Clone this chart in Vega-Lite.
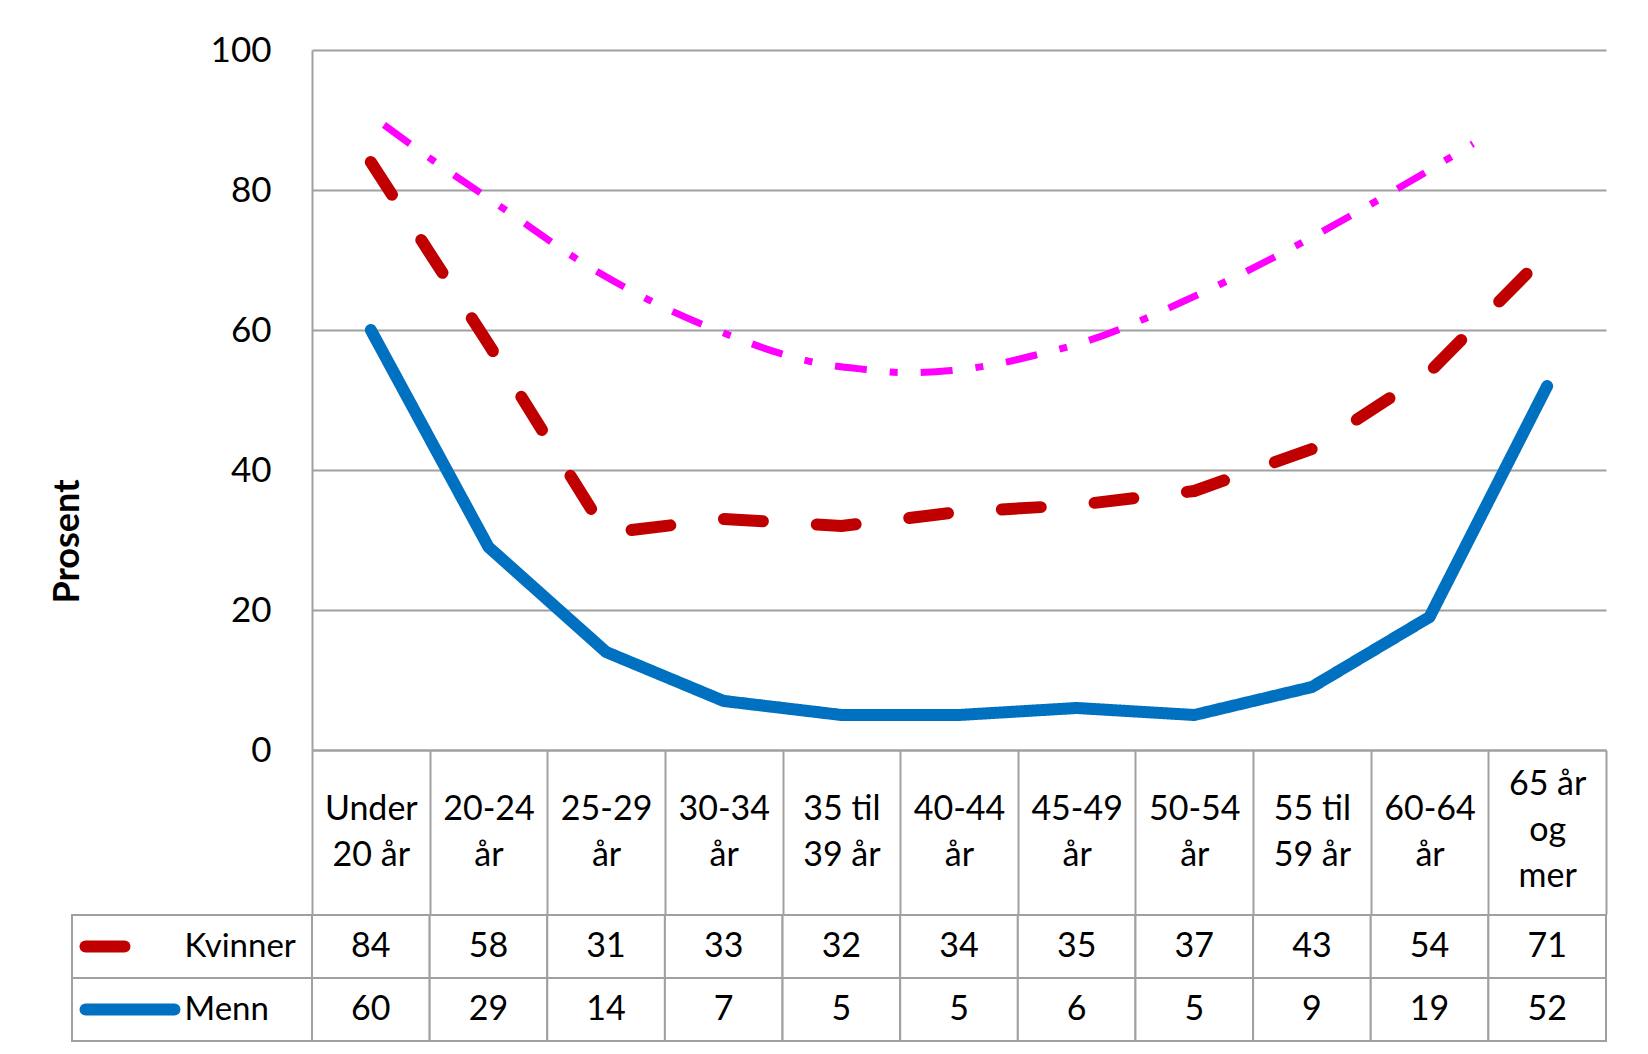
{
  "$schema": "https://vega.github.io/schema/vega-lite/v6.json",
  "background": "white",
  "padding": {"left": 49, "top": 33, "right": 0, "bottom": 0},
  "config": {
    "view": {"stroke": null},
    "font": "Lato"
  },
  "datasets": {
    "tabell": [
      {"alder": "Under 20 år", "kjonn": "Kvinner", "verdi": 84},
      {"alder": "20-24 år", "kjonn": "Kvinner", "verdi": 58},
      {"alder": "25-29 år", "kjonn": "Kvinner", "verdi": 31},
      {"alder": "30-34 år", "kjonn": "Kvinner", "verdi": 33},
      {"alder": "35 til 39 år", "kjonn": "Kvinner", "verdi": 32},
      {"alder": "40-44 år", "kjonn": "Kvinner", "verdi": 34},
      {"alder": "45-49 år", "kjonn": "Kvinner", "verdi": 35},
      {"alder": "50-54 år", "kjonn": "Kvinner", "verdi": 37},
      {"alder": "55  til 59 år", "kjonn": "Kvinner", "verdi": 43},
      {"alder": "60-64 år", "kjonn": "Kvinner", "verdi": 54},
      {"alder": "65 år og mer", "kjonn": "Kvinner", "verdi": 71},
      {"alder": "Under 20 år", "kjonn": "Menn", "verdi": 60},
      {"alder": "20-24 år", "kjonn": "Menn", "verdi": 29},
      {"alder": "25-29 år", "kjonn": "Menn", "verdi": 14},
      {"alder": "30-34 år", "kjonn": "Menn", "verdi": 7},
      {"alder": "35 til 39 år", "kjonn": "Menn", "verdi": 5},
      {"alder": "40-44 år", "kjonn": "Menn", "verdi": 5},
      {"alder": "45-49 år", "kjonn": "Menn", "verdi": 6},
      {"alder": "50-54 år", "kjonn": "Menn", "verdi": 5},
      {"alder": "55  til 59 år", "kjonn": "Menn", "verdi": 9},
      {"alder": "60-64 år", "kjonn": "Menn", "verdi": 19},
      {"alder": "65 år og mer", "kjonn": "Menn", "verdi": 52}
    ],
    "trend": [
      {"alder_indeks": 0.612, "verdi": 89.3},
      {"alder_indeks": 1.031, "verdi": 84.2},
      {"alder_indeks": 1.641, "verdi": 77.2},
      {"alder_indeks": 2.264, "verdi": 70.0},
      {"alder_indeks": 2.922, "verdi": 63.8},
      {"alder_indeks": 3.602, "verdi": 58.9},
      {"alder_indeks": 3.953, "verdi": 56.8},
      {"alder_indeks": 4.318, "verdi": 55.2},
      {"alder_indeks": 4.684, "verdi": 54.4},
      {"alder_indeks": 5.058, "verdi": 53.9},
      {"alder_indeks": 5.432, "verdi": 54.2},
      {"alder_indeks": 5.806, "verdi": 55.1},
      {"alder_indeks": 6.171, "verdi": 56.5},
      {"alder_indeks": 6.528, "verdi": 58.1},
      {"alder_indeks": 7.5, "verdi": 64.8},
      {"alder_indeks": 8.56, "verdi": 73.8},
      {"alder_indeks": 9.21, "verdi": 80.0},
      {"alder_indeks": 9.87, "verdi": 86.6}
    ],
    "forklaring": [
      {"kjonn": "Kvinner", "punkt": "start"},
      {"kjonn": "Kvinner", "punkt": "slutt"},
      {"kjonn": "Menn", "punkt": "start"},
      {"kjonn": "Menn", "punkt": "slutt"}
    ]
  },
  "concat": [
    {
      "width": 240,
      "height": 700,
      "data": {"values": []},
      "mark": {"type": "point", "opacity": 0}
    },
    {
      "width": 1294,
      "height": 700,
      "layer": [
        {
          "data": {"name": "tabell"},
          "mark": {"type": "line", "strokeWidth": 12, "strokeCap": "round", "strokeJoin": "round"},
          "encoding": {
            "x": {
              "field": "alder",
              "type": "nominal",
              "bandPosition": 0.5,
              "sort": ["Under 20 år", "20-24 år", "25-29 år", "30-34 år", "35 til 39 år", "40-44 år", "45-49 år", "50-54 år", "55  til 59 år", "60-64 år", "65 år og mer"],
              "scale": {"type": "band", "paddingInner": 0, "paddingOuter": 0},
              "axis": {
                "orient": "bottom",
                "title": null,
                "grid": false,
                "domain": true,
                "domainColor": "#a0a0a0",
                "domainWidth": 2,
                "ticks": true,
                "tickBand": "extent",
                "tickSize": 164,
                "tickColor": "#a0a0a0",
                "tickWidth": 2,
                "labelAngle": 0,
                "labelExpr": "datum.label == '65 år og mer' ? ['65 år', 'og', 'mer'] : indexof(datum.label, '-') >= 0 ? [slice(datum.label, 0, -3), 'år'] : [slice(datum.label, 0, -6), slice(datum.label, -5)]",
                "labelFontSize": 34,
                "labelColor": "#000000",
                "labelLineHeight": 46,
                "labelBaseline": "middle",
                "labelAlign": "center",
                "labelPadding": {"condition": {"test": "datum.value == '65 år og mer'", "value": -130}, "value": -105},
                "labelOverlap": false,
                "labelLimit": 0,
                "labelFlush": false
              }
            },
            "y": {
              "field": "verdi",
              "type": "quantitative",
              "scale": {"domain": [0, 100], "nice": false},
              "axis": {
                "values": [0, 20, 40, 60, 80, 100],
                "grid": true,
                "gridColor": "#a0a0a0",
                "gridWidth": 2,
                "domain": true,
                "domainColor": "#a0a0a0",
                "domainWidth": 2,
                "ticks": false,
                "labelPadding": 41,
                "labelFontSize": 35,
                "labelColor": "#000000",
                "labelFlush": false,
                "title": "Prosent",
                "titleFontSize": 36,
                "titleFontWeight": "bold",
                "titleColor": "#000000",
                "titleAngle": 270,
                "titleAlign": "center",
                "titleBaseline": "middle",
                "titleX": -245,
                "titleY": 491
              }
            },
            "color": {
              "field": "kjonn",
              "type": "nominal",
              "scale": {"domain": ["Kvinner", "Menn"], "range": ["#C00000", "#0070C0"]},
              "legend": null
            },
            "strokeDash": {
              "field": "kjonn",
              "type": "nominal",
              "scale": {"domain": ["Kvinner", "Menn"], "range": [[39, 54], [1, 0]]},
              "legend": null
            }
          }
        },
        {
          "data": {"name": "trend"},
          "mark": {"type": "line", "stroke": "#FF00FF", "strokeWidth": 7, "strokeDash": [32, 23, 8, 23], "interpolate": "monotone"},
          "encoding": {
            "x": {"field": "alder_indeks", "type": "quantitative", "scale": {"domain": [0, 11], "nice": false, "zero": false}, "axis": null},
            "y": {"field": "verdi", "type": "quantitative"}
          }
        }
      ],
      "resolve": {"scale": {"x": "independent"}}
    },
    {
      "width": 240,
      "height": 126,
      "data": {"name": "forklaring"},
      "layer": [
        {
          "transform": [{"filter": "datum.punkt == 'start'"}],
          "mark": {"type": "rect", "fill": "white", "stroke": "#a0a0a0", "strokeWidth": 2},
          "encoding": {
            "y": {"field": "kjonn", "type": "nominal", "scale": {"type": "band", "domain": ["Kvinner", "Menn"], "paddingInner": 0, "paddingOuter": 0}, "axis": null}
          }
        },
        {
          "mark": {"type": "line", "strokeWidth": 12, "strokeCap": "round"},
          "encoding": {
            "x": {"field": "punkt", "type": "nominal", "sort": ["start", "slutt"], "scale": {"type": "point", "domain": ["start", "slutt"], "padding": 0.8483, "align": 0.0894}, "axis": null},
            "y": {"field": "kjonn", "type": "nominal", "bandPosition": 0.5, "scale": {"type": "band", "domain": ["Kvinner", "Menn"], "paddingInner": 0, "paddingOuter": 0}, "axis": null},
            "color": {"field": "kjonn", "type": "nominal", "scale": {"domain": ["Kvinner", "Menn"], "range": ["#C00000", "#0070C0"]}, "legend": null},
            "strokeDash": {"field": "kjonn", "type": "nominal", "scale": {"domain": ["Kvinner", "Menn"], "range": [[39, 54], [1, 0]]}, "legend": null}
          }
        },
        {
          "transform": [{"filter": "datum.punkt == 'slutt'"}],
          "mark": {"type": "text", "align": "left", "baseline": "middle", "dx": 10, "fontSize": 33, "color": "#000000"},
          "encoding": {
            "x": {"field": "punkt", "type": "nominal", "sort": ["start", "slutt"], "scale": {"type": "point", "domain": ["start", "slutt"], "padding": 0.8483, "align": 0.0894}, "axis": null},
            "y": {"field": "kjonn", "type": "nominal", "bandPosition": 0.5, "scale": {"type": "band", "domain": ["Kvinner", "Menn"], "paddingInner": 0, "paddingOuter": 0}, "axis": null},
            "text": {"field": "kjonn", "type": "nominal"}
          }
        }
      ]
    },
    {
      "width": 1294,
      "height": 126,
      "data": {"name": "tabell"},
      "layer": [
        {
          "mark": {"type": "rect", "fill": "white", "stroke": "#a0a0a0", "strokeWidth": 2},
          "encoding": {
            "x": {"field": "alder", "type": "nominal", "sort": ["Under 20 år", "20-24 år", "25-29 år", "30-34 år", "35 til 39 år", "40-44 år", "45-49 år", "50-54 år", "55  til 59 år", "60-64 år", "65 år og mer"], "scale": {"type": "band", "paddingInner": 0, "paddingOuter": 0}, "axis": null},
            "y": {"field": "kjonn", "type": "nominal", "scale": {"type": "band", "domain": ["Kvinner", "Menn"], "paddingInner": 0, "paddingOuter": 0}, "axis": null}
          }
        },
        {
          "mark": {"type": "text", "baseline": "middle", "align": "center", "fontSize": 34, "color": "#000000"},
          "encoding": {
            "x": {"field": "alder", "type": "nominal", "bandPosition": 0.5, "sort": ["Under 20 år", "20-24 år", "25-29 år", "30-34 år", "35 til 39 år", "40-44 år", "45-49 år", "50-54 år", "55  til 59 år", "60-64 år", "65 år og mer"], "scale": {"type": "band", "paddingInner": 0, "paddingOuter": 0}, "axis": null},
            "y": {"field": "kjonn", "type": "nominal", "bandPosition": 0.5, "scale": {"type": "band", "domain": ["Kvinner", "Menn"], "paddingInner": 0, "paddingOuter": 0}, "axis": null},
            "text": {"field": "verdi", "type": "quantitative"}
          }
        }
      ]
    }
  ],
  "columns": 2,
  "spacing": {"row": 165, "column": 0},
  "bounds": "flush",
  "align": "each",
  "resolve": {"scale": {"x": "independent", "y": "independent", "color": "independent", "strokeDash": "independent"}}
}
